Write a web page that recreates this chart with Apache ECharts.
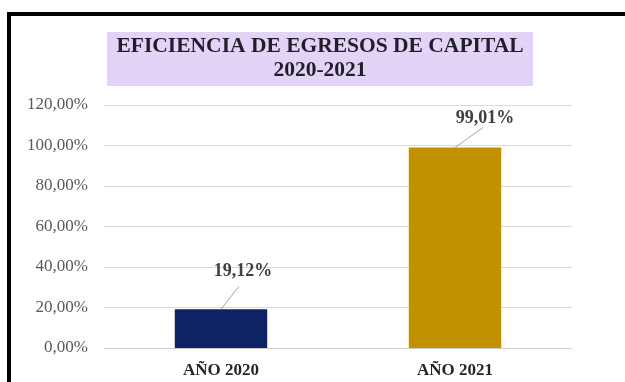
<!DOCTYPE html>
<html>
<head>
<meta charset="utf-8">
<script src="https://cdn.jsdelivr.net/npm/echarts@6/dist/echarts.min.js"></script>
<style>
  html, body { margin: 0; padding: 0; background: #ffffff; }
  #chart { width: 625px; height: 382px; }
</style>
</head>
<body>
<div id="chart"></div>
<script>
// Capital expenditure efficiency by year
const categories = ['AÑO 2020', 'AÑO 2021'];
const efficiency = [19.12, 99.01];
const barColors = ['#0D2366', '#C29100'];
const yTicks = [0, 20, 40, 60, 80, 100, 120];

// callout placement relative to each bar's top centre (px)
const calloutText = [[22, -38], [30, -29]];
const calloutLineEnd = [[18, -23], [28, -20]];

const fmt = v => v.toFixed(2).replace('.', ',') + '%';
const serif = '"Liberation Serif", "Times New Roman", serif';

const chart = echarts.init(document.getElementById('chart'), null, { renderer: 'canvas' });

chart.setOption({
  animation: false,
  backgroundColor: '#ffffff',
  graphic: [
    {
      type: 'rect',
      shape: { x: 9, y: 14, width: 700, height: 500 },
      style: { fill: 'none', stroke: '#000000', lineWidth: 4 },
      z: 0
    },
    {
      type: 'rect',
      shape: { x: 107, y: 32, width: 426, height: 54 },
      style: { fill: '#E3D3F7' },
      z: 1
    },
    {
      type: 'text',
      x: 320, y: 58,
      style: {
        text: 'EFICIENCIA DE EGRESOS DE CAPITAL\n2020-2021',
        fontFamily: serif, fontWeight: 'bold', fontSize: 21.5,
        fill: '#1f1f2a', align: 'center', verticalAlign: 'middle',
        lineHeight: 24
      },
      z: 2
    }
  ],
  grid: { left: 104, right: 53, top: 105, bottom: 34 },
  xAxis: {
    type: 'category',
    data: categories,
    axisLine: { lineStyle: { color: '#CFCFCF', width: 1 } },
    axisTick: { show: false },
    axisLabel: {
      margin: 14,
      fontFamily: serif, fontWeight: 'bold', fontSize: 17, color: '#262626'
    }
  },
  yAxis: {
    type: 'value',
    min: yTicks[0],
    max: yTicks[yTicks.length - 1],
    interval: yTicks[1] - yTicks[0],
    axisLine: { show: false },
    axisTick: { show: false },
    splitLine: { lineStyle: { color: '#D9D9D9', width: 1 } },
    axisLabel: {
      margin: 16,
      formatter: v => fmt(v),
      fontFamily: serif, fontSize: 17, color: '#595959'
    }
  },
  series: [
    {
      type: 'bar',
      data: efficiency.map((v, i) => ({ value: v, itemStyle: { color: barColors[i] } })),
      barWidth: '39.5%',
      z: 2
    },
    {
      // value callouts with a short leader line
      type: 'custom',
      data: efficiency.map((v, i) => [i, v]),
      z: 3,
      renderItem: (params, api) => {
        const i = params.dataIndex;
        const p = api.coord([api.value(0), api.value(1)]);
        return {
          type: 'group',
          children: [
            {
              type: 'line',
              shape: {
                x1: p[0], y1: p[1],
                x2: p[0] + calloutLineEnd[i][0], y2: p[1] + calloutLineEnd[i][1]
              },
              style: { stroke: '#A6A6A6', lineWidth: 1 }
            },
            {
              type: 'text',
              x: p[0] + calloutText[i][0],
              y: p[1] + calloutText[i][1],
              style: {
                text: fmt(api.value(1)),
                fontFamily: serif, fontWeight: 'bold', fontSize: 18,
                fill: '#404040', align: 'center', verticalAlign: 'middle'
              }
            }
          ]
        };
      }
    }
  ]
});
</script>
</body>
</html>
